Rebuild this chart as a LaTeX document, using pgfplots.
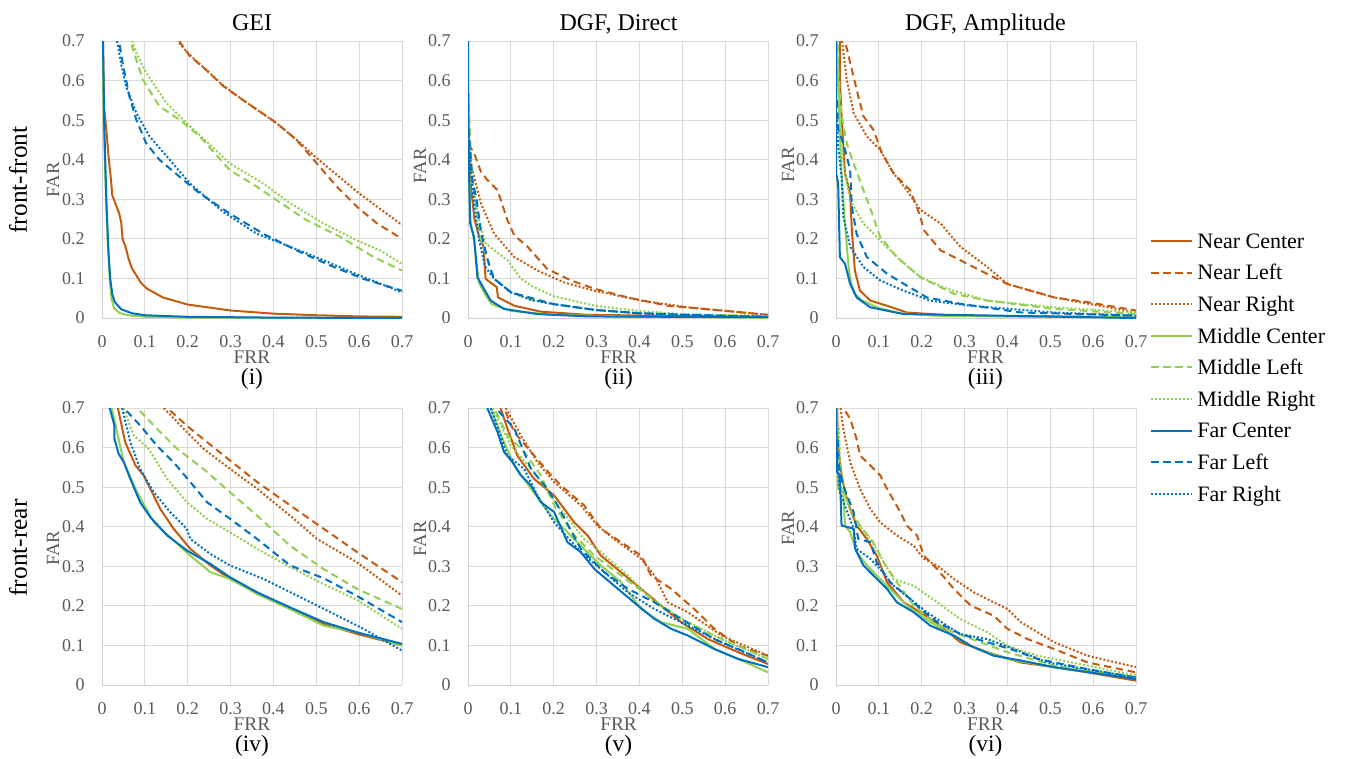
\documentclass[border=0pt]{standalone}
\usepackage{fontspec}
\setmainfont{Liberation Serif}
\usepackage{pgfplots}
\pgfplotsset{compat=1.18}
\definecolor{cNear}{HTML}{C55A11}
\definecolor{cMid}{HTML}{92D050}
\definecolor{cFar}{HTML}{0070C0}
\definecolor{gridc}{HTML}{D9D9D9}
\definecolor{axisc}{HTML}{D0D0D0}
\definecolor{tickc}{HTML}{595959}

\pgfplotsset{
  panel/.style={
    scale only axis, width=225pt, height=207.75pt, anchor=south west,
    xmin=0, xmax=0.7, ymin=0, ymax=0.7,
    xtick={0,0.1,0.2,0.3,0.4,0.5,0.6,0.7},
    ytick={0,0.1,0.2,0.3,0.4,0.5,0.6,0.7},
    xticklabels={0,0.1,0.2,0.3,0.4,0.5,0.6,0.7},
    yticklabels={0,0.1,0.2,0.3,0.4,0.5,0.6,0.7},
    grid=major, grid style={draw=gridc, line width=0.75pt},
    axis x line*=bottom, axis y line*=left,
    axis line style={draw=axisc, line width=0.75pt, -},
    major tick length=0pt, tick style={draw=none},
    tick label style={font=\fontsize{13.5}{16}\selectfont, text=tickc},
    xticklabel style={anchor=base, yshift=-21.75pt},
    yticklabel style={anchor=east, inner sep=0pt, xshift=-12.75pt},
    legend image code/.code={\draw[#1] (0pt,0pt) -- (30.75pt,0pt);},
    every axis plot/.append style={line width=1.5pt, line join=round},
  },
  nc/.style={color=cNear, solid},
  nl/.style={color=cNear, dash pattern=on 5.5pt off 3.5pt},
  nr/.style={color=cNear, dash pattern=on 1.5pt off 1.5pt},
  mc/.style={color=cMid, solid},
  ml/.style={color=cMid, dash pattern=on 5.5pt off 3.5pt},
  mr/.style={color=cMid, dash pattern=on 1.5pt off 1.5pt},
  fc/.style={color=cFar, solid},
  fl/.style={color=cFar, dash pattern=on 5.5pt off 3.5pt},
  fr/.style={color=cFar, dash pattern=on 1.5pt off 1.5pt},
}

\begin{document}
\begin{tikzpicture}
\path (0pt,0pt) rectangle (1008.75pt,-568.5pt);

% (i) GEI, front-front
\begin{axis}[panel, at={(76.5pt,-238.5pt)}]
\addplot[nc] coordinates {(0.002,0.72) (0.005,0.53) (0.008,0.5) (0.012,0.45) (0.016,0.4) (0.02,0.36) (0.024,0.31) (0.031,0.29) (0.04,0.265) (0.045,0.24) (0.048,0.2) (0.055,0.18) (0.062,0.15) (0.07,0.125) (0.08,0.108) (0.09,0.09) (0.105,0.074) (0.142,0.052) (0.2,0.034) (0.3,0.019) (0.4,0.011) (0.5,0.007) (0.6,0.004) (0.7,0.003)};
\addplot[nl] coordinates {(0.18,0.7) (0.205,0.662) (0.245,0.625) (0.283,0.586) (0.33,0.55) (0.368,0.522) (0.407,0.493) (0.454,0.45) (0.501,0.391) (0.548,0.332) (0.595,0.281) (0.642,0.239) (0.7,0.2)};
\addplot[nr] coordinates {(0.18,0.695) (0.2,0.67) (0.24,0.63) (0.28,0.59) (0.33,0.55) (0.37,0.52) (0.41,0.49) (0.46,0.445) (0.5,0.405) (0.55,0.36) (0.6,0.315) (0.65,0.275) (0.7,0.235)};
\addplot[mc] coordinates {(0.001,0.72) (0.004,0.5) (0.008,0.35) (0.013,0.2) (0.017,0.12) (0.019,0.09) (0.022,0.05) (0.028,0.025) (0.04,0.013) (0.06,0.007) (0.1,0.003) (0.2,0.001) (0.7,0)};
\addplot[ml] coordinates {(0.06,0.72) (0.075,0.67) (0.095,0.603) (0.134,0.535) (0.181,0.501) (0.228,0.459) (0.298,0.374) (0.361,0.332) (0.407,0.298) (0.478,0.247) (0.556,0.205) (0.634,0.154) (0.7,0.12)};
\addplot[mr] coordinates {(0.065,0.72) (0.08,0.67) (0.103,0.62) (0.15,0.544) (0.197,0.493) (0.25,0.44) (0.298,0.391) (0.376,0.34) (0.439,0.29) (0.517,0.239) (0.595,0.196) (0.65,0.17) (0.7,0.137)};
\addplot[fc] coordinates {(0.002,0.72) (0.005,0.5) (0.01,0.3) (0.015,0.17) (0.019,0.1) (0.024,0.06) (0.03,0.04) (0.045,0.022) (0.07,0.012) (0.1,0.007) (0.2,0.003) (0.4,0.001) (0.7,0)};
\addplot[fl] coordinates {(0.037,0.72) (0.048,0.645) (0.064,0.56) (0.08,0.501) (0.103,0.442) (0.134,0.4) (0.181,0.357) (0.228,0.315) (0.298,0.264) (0.376,0.213) (0.454,0.171) (0.532,0.133) (0.61,0.099) (0.7,0.069)};
\addplot[fr] coordinates {(0.032,0.72) (0.045,0.64) (0.056,0.586) (0.08,0.518) (0.111,0.459) (0.165,0.391) (0.205,0.34) (0.283,0.268) (0.361,0.213) (0.439,0.18) (0.517,0.146) (0.595,0.11) (0.7,0.065)};
\end{axis}

% (ii) DGF Direct, front-front
\begin{axis}[panel, at={(351pt,-238.5pt)}]
\addplot[nc] coordinates {(0.001,0.5) (0.005,0.35) (0.015,0.25) (0.025,0.21) (0.036,0.18) (0.041,0.099) (0.067,0.078) (0.07,0.052) (0.108,0.031) (0.17,0.016) (0.28,0.008) (0.5,0.005) (0.7,0.003)};
\addplot[nl] coordinates {(0.001,0.44) (0.014,0.417) (0.03,0.37) (0.045,0.349) (0.069,0.323) (0.092,0.247) (0.108,0.209) (0.139,0.18) (0.185,0.124) (0.24,0.095) (0.295,0.074) (0.373,0.052) (0.466,0.031) (0.591,0.019) (0.7,0.008)};
\addplot[nr] coordinates {(0.001,0.42) (0.014,0.357) (0.03,0.29) (0.061,0.213) (0.108,0.154) (0.162,0.12) (0.224,0.09) (0.295,0.069) (0.404,0.044) (0.513,0.027) (0.7,0.008)};
\addplot[mc] coordinates {(0.001,0.55) (0.002,0.45) (0.005,0.25) (0.015,0.19) (0.025,0.09) (0.04,0.06) (0.055,0.035) (0.1,0.018) (0.2,0.008) (0.4,0.003) (0.7,0.001)};
\addplot[ml] coordinates {(0.001,0.57) (0.005,0.45) (0.01,0.35) (0.02,0.27) (0.03,0.2) (0.045,0.15) (0.06,0.1) (0.1,0.065) (0.15,0.045) (0.2,0.035) (0.3,0.02) (0.4,0.013) (0.5,0.009) (0.7,0.004)};
\addplot[mr] coordinates {(0.001,0.47) (0.01,0.35) (0.025,0.25) (0.04,0.19) (0.061,0.171) (0.092,0.146) (0.123,0.1) (0.15,0.08) (0.2,0.055) (0.3,0.03) (0.4,0.018) (0.5,0.01) (0.7,0.005)};
\addplot[fc] coordinates {(0,0.72) (0.001,0.45) (0.002,0.39) (0.005,0.239) (0.014,0.205) (0.022,0.103) (0.037,0.074) (0.053,0.044) (0.084,0.023) (0.162,0.01) (0.28,0.004) (0.7,0.002)};
\addplot[fl] coordinates {(0.001,0.48) (0.01,0.35) (0.02,0.3) (0.03,0.22) (0.045,0.15) (0.06,0.1) (0.1,0.065) (0.15,0.05) (0.2,0.035) (0.3,0.02) (0.4,0.012) (0.5,0.008) (0.7,0.003)};
\addplot[fr] coordinates {(0.001,0.47) (0.01,0.33) (0.025,0.2) (0.04,0.13) (0.06,0.1) (0.1,0.065) (0.15,0.045) (0.2,0.035) (0.3,0.02) (0.4,0.012) (0.5,0.008) (0.7,0.003)};
\end{axis}

% (iii) DGF Amplitude, front-front
\begin{axis}[panel, at={(627pt,-238.5pt)}, legend cell align=left,
  legend style={at={(1.047,0.325)}, anchor=north west, draw=none, fill=none, inner sep=0pt,
    font=\fontsize{16.5}{19}\selectfont, row sep=4.7pt, column sep=2pt,
    nodes={inner sep=1pt, text height=14pt, text depth=3pt}}]
\addplot[nc] coordinates {(0.009,0.72) (0.009,0.603) (0.013,0.51) (0.021,0.366) (0.033,0.315) (0.037,0.222) (0.044,0.12) (0.056,0.069) (0.08,0.044) (0.119,0.031) (0.165,0.014) (0.275,0.006) (0.7,0.002)};
\addplot[nl] coordinates {(0.019,0.72) (0.021,0.7) (0.037,0.628) (0.052,0.56) (0.064,0.51) (0.087,0.476) (0.107,0.417) (0.134,0.366) (0.173,0.323) (0.197,0.256) (0.205,0.222) (0.244,0.171) (0.29,0.146) (0.337,0.12) (0.4,0.086) (0.509,0.052) (0.587,0.04) (0.7,0.019)};
\addplot[nr] coordinates {(0.012,0.72) (0.025,0.603) (0.041,0.518) (0.072,0.459) (0.103,0.425) (0.134,0.366) (0.165,0.323) (0.197,0.273) (0.244,0.239) (0.29,0.18) (0.353,0.129) (0.4,0.086) (0.509,0.052) (0.7,0.014)};
\addplot[mc] coordinates {(0.002,0.72) (0.003,0.65) (0.008,0.5) (0.012,0.38) (0.02,0.25) (0.03,0.12) (0.035,0.09) (0.045,0.06) (0.06,0.045) (0.1,0.025) (0.15,0.012) (0.25,0.005) (0.7,0.002)};
\addplot[ml] coordinates {(0.004,0.72) (0.005,0.63) (0.012,0.52) (0.025,0.442) (0.041,0.391) (0.064,0.323) (0.087,0.256) (0.103,0.205) (0.142,0.154) (0.197,0.103) (0.275,0.061) (0.353,0.044) (0.509,0.023) (0.7,0.01)};
\addplot[mr] coordinates {(0.004,0.62) (0.01,0.5) (0.017,0.391) (0.033,0.298) (0.064,0.239) (0.103,0.196) (0.15,0.146) (0.197,0.103) (0.259,0.074) (0.353,0.044) (0.509,0.027) (0.7,0.014)};
\addplot[fc] coordinates {(0,0.72) (0,0.366) (0.005,0.34) (0.009,0.154) (0.021,0.137) (0.033,0.086) (0.048,0.052) (0.08,0.027) (0.158,0.01) (0.7,0)};
\addplot[fl] coordinates {(0.002,0.55) (0.005,0.476) (0.017,0.442) (0.033,0.374) (0.037,0.281) (0.048,0.213) (0.072,0.154) (0.119,0.112) (0.165,0.082) (0.212,0.052) (0.29,0.036) (0.431,0.014) (0.7,0.006)};
\addplot[fr] coordinates {(0.002,0.5) (0.005,0.434) (0.013,0.357) (0.017,0.256) (0.033,0.18) (0.064,0.129) (0.103,0.095) (0.158,0.069) (0.22,0.044) (0.314,0.031) (0.509,0.014) (0.7,0.006)};
\legend{Near Center,Near Left,Near Right,Middle Center,Middle Left,Middle Right,Far Center,Far Left,Far Right}
\end{axis}

% (iv) GEI, front-rear
\begin{axis}[panel, at={(76.5pt,-513.75pt)}]
\addplot[nc] coordinates {(0.035,0.72) (0.037,0.7) (0.054,0.614) (0.078,0.555) (0.097,0.53) (0.136,0.445) (0.167,0.395) (0.206,0.344) (0.253,0.302) (0.299,0.268) (0.362,0.234) (0.439,0.192) (0.517,0.154) (0.595,0.129) (0.7,0.1)};
\addplot[nl] coordinates {(0.15,0.72) (0.152,0.7) (0.206,0.648) (0.284,0.58) (0.362,0.513) (0.439,0.454) (0.517,0.395) (0.595,0.336) (0.7,0.26)};
\addplot[nr] coordinates {(0.142,0.72) (0.144,0.7) (0.19,0.648) (0.237,0.597) (0.299,0.546) (0.362,0.496) (0.439,0.428) (0.502,0.369) (0.595,0.31) (0.7,0.226)};
\addplot[mc] coordinates {(0.022,0.72) (0.023,0.7) (0.035,0.639) (0.051,0.563) (0.082,0.487) (0.121,0.411) (0.206,0.327) (0.253,0.285) (0.299,0.268) (0.362,0.23) (0.439,0.192) (0.517,0.15) (0.595,0.133) (0.7,0.1)};
\addplot[ml] coordinates {(0.08,0.72) (0.082,0.7) (0.128,0.648) (0.175,0.597) (0.237,0.546) (0.299,0.487) (0.362,0.428) (0.439,0.352) (0.517,0.293) (0.595,0.243) (0.7,0.192)};
\addplot[mr] coordinates {(0.048,0.72) (0.05,0.7) (0.074,0.631) (0.109,0.597) (0.152,0.521) (0.198,0.462) (0.245,0.42) (0.299,0.386) (0.362,0.344) (0.439,0.298) (0.517,0.255) (0.595,0.215) (0.7,0.142)};
\addplot[fc] coordinates {(0.017,0.72) (0.018,0.7) (0.029,0.656) (0.029,0.622) (0.039,0.584) (0.051,0.563) (0.066,0.521) (0.089,0.462) (0.113,0.424) (0.152,0.378) (0.198,0.34) (0.253,0.306) (0.299,0.272) (0.362,0.234) (0.439,0.196) (0.517,0.159) (0.595,0.133) (0.7,0.104)};
\addplot[fl] coordinates {(0.05,0.72) (0.051,0.7) (0.089,0.656) (0.128,0.605) (0.167,0.563) (0.206,0.513) (0.245,0.462) (0.299,0.42) (0.362,0.369) (0.439,0.302) (0.517,0.27) (0.595,0.225) (0.7,0.159)};
\addplot[fr] coordinates {(0.045,0.72) (0.047,0.7) (0.066,0.614) (0.089,0.546) (0.121,0.487) (0.159,0.437) (0.198,0.395) (0.206,0.369) (0.253,0.331) (0.299,0.302) (0.377,0.268) (0.455,0.226) (0.533,0.184) (0.61,0.142) (0.7,0.087)};
\end{axis}

% (v) DGF Direct, front-rear
\begin{axis}[panel, at={(351pt,-513.75pt)}]
\addplot[nc] coordinates {(0.074,0.72) (0.076,0.7) (0.092,0.648) (0.115,0.58) (0.154,0.521) (0.201,0.479) (0.248,0.411) (0.279,0.378) (0.31,0.327) (0.357,0.285) (0.404,0.243) (0.45,0.201) (0.497,0.159) (0.56,0.116) (0.63,0.083) (0.7,0.053)};
\addplot[nl] coordinates {(0.082,0.72) (0.084,0.7) (0.108,0.639) (0.154,0.58) (0.194,0.53) (0.217,0.504) (0.271,0.454) (0.31,0.395) (0.357,0.361) (0.404,0.327) (0.427,0.277) (0.474,0.243) (0.528,0.192) (0.575,0.142) (0.63,0.099) (0.7,0.074)};
\addplot[nr] coordinates {(0.086,0.72) (0.088,0.7) (0.123,0.631) (0.162,0.563) (0.201,0.513) (0.263,0.454) (0.302,0.403) (0.341,0.369) (0.404,0.319) (0.435,0.277) (0.466,0.209) (0.513,0.184) (0.591,0.125) (0.7,0.074)};
\addplot[mc] coordinates {(0.051,0.72) (0.053,0.7) (0.084,0.614) (0.108,0.555) (0.147,0.496) (0.194,0.428) (0.232,0.386) (0.263,0.352) (0.31,0.302) (0.357,0.26) (0.404,0.192) (0.45,0.159) (0.513,0.142) (0.575,0.091) (0.63,0.066) (0.7,0.032)};
\addplot[ml] coordinates {(0.059,0.72) (0.061,0.7) (0.092,0.631) (0.131,0.589) (0.17,0.53) (0.201,0.454) (0.248,0.378) (0.295,0.327) (0.357,0.277) (0.419,0.226) (0.497,0.167) (0.575,0.125) (0.7,0.066)};
\addplot[mr] coordinates {(0.055,0.72) (0.057,0.7) (0.1,0.605) (0.154,0.538) (0.209,0.454) (0.271,0.369) (0.31,0.336) (0.373,0.277) (0.435,0.209) (0.513,0.159) (0.591,0.116) (0.7,0.066)};
\addplot[fc] coordinates {(0.043,0.72) (0.045,0.7) (0.069,0.639) (0.084,0.589) (0.104,0.563) (0.123,0.53) (0.147,0.504) (0.17,0.462) (0.201,0.437) (0.232,0.361) (0.263,0.336) (0.295,0.293) (0.341,0.251) (0.396,0.201) (0.435,0.167) (0.474,0.142) (0.513,0.125) (0.575,0.091) (0.63,0.066) (0.7,0.045)};
\addplot[fl] coordinates {(0.063,0.72) (0.065,0.7) (0.108,0.648) (0.147,0.546) (0.185,0.496) (0.209,0.454) (0.263,0.344) (0.318,0.285) (0.373,0.243) (0.435,0.209) (0.497,0.167) (0.575,0.116) (0.63,0.091) (0.7,0.057)};
\addplot[fr] coordinates {(0.051,0.72) (0.053,0.7) (0.092,0.58) (0.131,0.546) (0.162,0.479) (0.201,0.411) (0.263,0.336) (0.31,0.293) (0.373,0.234) (0.435,0.192) (0.513,0.15) (0.591,0.108) (0.7,0.057)};
\end{axis}

% (vi) DGF Amplitude, front-rear
\begin{axis}[panel, at={(627pt,-513.75pt)}]
\addplot[nc] coordinates {(0.002,0.72) (0.005,0.605) (0.013,0.53) (0.021,0.487) (0.033,0.445) (0.048,0.403) (0.072,0.369) (0.095,0.327) (0.119,0.26) (0.158,0.209) (0.197,0.184) (0.244,0.15) (0.29,0.108) (0.353,0.083) (0.431,0.057) (0.509,0.045) (0.587,0.032) (0.7,0.011)};
\addplot[nl] coordinates {(0.015,0.72) (0.017,0.7) (0.033,0.673) (0.048,0.622) (0.056,0.58) (0.08,0.555) (0.103,0.53) (0.119,0.496) (0.15,0.437) (0.165,0.403) (0.189,0.378) (0.205,0.327) (0.236,0.293) (0.275,0.243) (0.314,0.201) (0.368,0.175) (0.4,0.142) (0.447,0.116) (0.509,0.091) (0.587,0.057) (0.7,0.032)};
\addplot[nr] coordinates {(0.008,0.72) (0.017,0.648) (0.033,0.563) (0.056,0.496) (0.08,0.445) (0.103,0.411) (0.142,0.378) (0.181,0.352) (0.205,0.319) (0.236,0.302) (0.275,0.268) (0.322,0.234) (0.368,0.209) (0.4,0.192) (0.431,0.159) (0.509,0.108) (0.587,0.074) (0.7,0.045)};
\addplot[mc] coordinates {(0.001,0.72) (0.002,0.648) (0.005,0.496) (0.017,0.487) (0.021,0.403) (0.033,0.386) (0.048,0.336) (0.072,0.302) (0.095,0.277) (0.119,0.251) (0.165,0.201) (0.22,0.159) (0.275,0.125) (0.329,0.091) (0.4,0.066) (0.509,0.045) (0.7,0.019)};
\addplot[ml] coordinates {(0.004,0.65) (0.005,0.58) (0.017,0.496) (0.033,0.445) (0.056,0.403) (0.087,0.361) (0.111,0.31) (0.142,0.26) (0.181,0.201) (0.228,0.159) (0.275,0.133) (0.337,0.108) (0.4,0.083) (0.509,0.049) (0.7,0.019)};
\addplot[mr] coordinates {(0.007,0.65) (0.009,0.563) (0.025,0.462) (0.048,0.411) (0.08,0.369) (0.103,0.327) (0.134,0.268) (0.181,0.251) (0.236,0.209) (0.29,0.167) (0.353,0.133) (0.4,0.099) (0.47,0.074) (0.587,0.049) (0.7,0.024)};
\addplot[fc] coordinates {(0,0.72) (0.002,0.538) (0.009,0.53) (0.013,0.403) (0.041,0.395) (0.045,0.344) (0.064,0.302) (0.087,0.277) (0.119,0.243) (0.142,0.209) (0.181,0.184) (0.22,0.15) (0.275,0.125) (0.314,0.099) (0.368,0.074) (0.431,0.062) (0.509,0.045) (0.7,0.015)};
\addplot[fl] coordinates {(0.004,0.62) (0.005,0.563) (0.017,0.504) (0.041,0.437) (0.052,0.369) (0.08,0.361) (0.095,0.31) (0.126,0.26) (0.173,0.218) (0.197,0.192) (0.236,0.159) (0.29,0.129) (0.353,0.108) (0.407,0.091) (0.47,0.066) (0.587,0.04) (0.7,0.019)};
\addplot[fr] coordinates {(0.001,0.65) (0.002,0.58) (0.009,0.487) (0.041,0.395) (0.048,0.344) (0.08,0.319) (0.103,0.293) (0.134,0.251) (0.173,0.218) (0.212,0.184) (0.259,0.15) (0.29,0.129) (0.353,0.116) (0.415,0.091) (0.493,0.057) (0.7,0.019)};
\end{axis}

% titles, axis names, panel tags, row names
\begin{scope}[every node/.style={inner sep=0pt}]
\node[anchor=base, font=\fontsize{18}{21}\selectfont] at (189pt,-22.5pt) {GEI};
\node[anchor=base, font=\fontsize{18}{21}\selectfont] at (463.9pt,-22.5pt) {DGF, Direct};
\node[anchor=base, font=\fontsize{18}{21}\selectfont] at (739.1pt,-22.5pt) {DGF, Amplitude};
\foreach \cx/\tagi/\tagii in {189/i/iv, 463.9/ii/v, 739.1/iii/vi}{
  \node[anchor=base, font=\fontsize{14.5}{17}\selectfont, text=tickc] at (\cx pt,-272.25pt) {FRR};
  \node[anchor=base, font=\fontsize{14.5}{17}\selectfont, text=tickc] at (\cx pt,-547.5pt) {FRR};
  \node[anchor=base, font=\fontsize{17.5}{20}\selectfont] at (\cx pt,-288pt) {(\tagi)};
  \node[anchor=base, font=\fontsize{17.5}{20}\selectfont] at (\cx pt,-563.25pt) {(\tagii)};
}
\foreach \fx/\fy in {39.75/135, 315/124.5, 591/123.75, 39.75/411, 315/404, 591/396}{
  \node[rotate=90, font=\fontsize{14}{17}\selectfont, text=tickc] at (\fx pt,-\fy pt) {FAR};
}
\node[rotate=90, font=\fontsize{19}{22}\selectfont] at (13.5pt,-135pt) {front-front};
\node[rotate=90, font=\fontsize{19}{22}\selectfont] at (13.5pt,-411pt) {front-rear};
\end{scope}
\end{tikzpicture}
\end{document}
